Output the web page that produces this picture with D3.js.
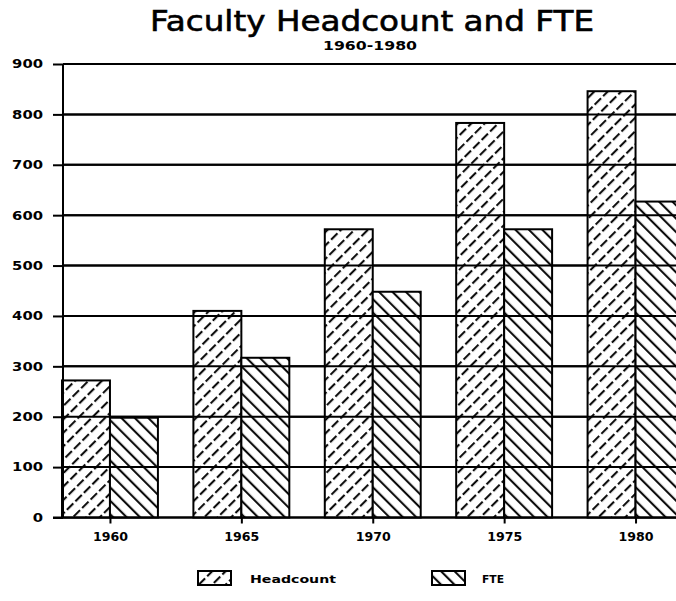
<!DOCTYPE html>
<html>
<head>
<meta charset="utf-8">
<script src="https://cdn.jsdelivr.net/npm/d3@7"></script>
<style>
  html, body { margin: 0; padding: 0; background: #fff; }
  svg { display: block; }
  text { font-family: "DejaVu Sans", sans-serif; fill: #000; }
</style>
</head>
<body>
<div id="chart"></div>
<script>
const years = ["1960", "1965", "1970", "1975", "1980"];
const headcount = [272, 410, 572, 783, 846];
const fte = [198, 317, 448, 572, 627];
const seriesNames = ["Headcount", "FTE"];
const yTicks = [0, 100, 200, 300, 400, 500, 600, 700, 800, 900];
const titleText = "Faculty Headcount and FTE";
const subtitleText = "1960-1980";

const W = 676, H = 601;
const svg = d3.select("#chart").append("svg").attr("width", W).attr("height", H);

const defs = svg.append("defs");
function hatch(id, angle, dash) {
  const p = defs.append("pattern").attr("id", id)
    .attr("patternUnits", "userSpaceOnUse")
    .attr("width", 9.5).attr("height", 12)
    .attr("patternTransform", `rotate(${angle})`);
  p.append("rect").attr("width", 9.5).attr("height", 12).attr("fill", "#fff");
  p.append("line").attr("x1", 3).attr("y1", 0).attr("x2", 3).attr("y2", 12)
    .attr("stroke", "#000").attr("stroke-width", 2)
    .attr("stroke-dasharray", dash);
}
hatch("hatchHead", 45, "9 3");
hatch("hatchFte", -45, null);
const fills = ["url(#hatchHead)", "url(#hatchFte)"];

const y = d3.scaleLinear().domain([0, 900]).range([517.5, 64]);
const x0 = d3.scaleBand().domain(years).range([62, 683.5]).paddingInner(0.27).paddingOuter(0);
const x1 = d3.scaleBand().domain(seriesNames).range([0, x0.bandwidth()]).padding(0);

// Title
svg.append("text").attr("x", 372).attr("y", 31).attr("text-anchor", "middle")
  .attr("font-size", 29).attr("textLength", 444).attr("lengthAdjust", "spacingAndGlyphs")
  .attr("stroke", "#000").attr("stroke-width", 0.6)
  .text(titleText);
svg.append("text").attr("x", 370).attr("y", 50).attr("text-anchor", "middle")
  .attr("font-size", 12).attr("font-weight", "bold")
  .attr("textLength", 94).attr("lengthAdjust", "spacingAndGlyphs")
  .text(subtitleText);

// Gridlines + y tick labels
const yAxis = d3.axisLeft(y).tickValues(yTicks).tickSize(10).tickFormat(d3.format("d"));
const gy = svg.append("g").attr("transform", "translate(63,0)").call(yAxis);
gy.select(".domain").remove();
gy.selectAll(".tick line").attr("stroke", "#000").attr("stroke-width", 2);
gy.selectAll(".tick text").attr("x", -20).attr("font-size", 12).attr("font-weight", "bold")
  .attr("font-family", "DejaVu Sans, sans-serif")
  .attr("textLength", d => String(d).length * 10.3).attr("lengthAdjust", "spacingAndGlyphs").attr("fill", "#000");

svg.append("g").selectAll("line").data(yTicks).join("line")
  .attr("x1", 63).attr("x2", W).attr("y1", d => y(d)).attr("y2", d => y(d))
  .attr("stroke", "#000").attr("stroke-width", 2);

// Bars
const groups = svg.append("g").selectAll("g").data(years).join("g")
  .attr("transform", d => `translate(${x0(d)},0)`);
groups.selectAll("rect").data((d, i) => [
  { s: seriesNames[0], v: headcount[i], f: fills[0] },
  { s: seriesNames[1], v: fte[i], f: fills[1] }
]).join("rect")
  .attr("x", d => x1(d.s)).attr("width", x1.bandwidth())
  .attr("y", d => y(d.v)).attr("height", d => y(0) - y(d.v))
  .attr("fill", d => d.f).attr("stroke", "#000").attr("stroke-width", 2);

// Gridlines run through the bars
svg.append("g").selectAll("line").data(yTicks.filter(d => d > 0)).join("line")
  .attr("x1", 63).attr("x2", W).attr("y1", d => y(d)).attr("y2", d => y(d))
  .attr("stroke", "#000").attr("stroke-width", 2);

// Y axis line
svg.append("line").attr("x1", 63).attr("x2", 63).attr("y1", y(0)).attr("y2", y(900))
  .attr("stroke", "#000").attr("stroke-width", 2);

// X axis
const gx = svg.append("g").attr("transform", `translate(0,${y(0)})`)
  .call(d3.axisBottom(d3.scalePoint().domain(years)
    .range([x0(years[0]) + x0.bandwidth() / 2, x0(years[4]) + x0.bandwidth() / 2])).tickSize(6));
gx.select(".domain").remove();
gx.selectAll(".tick line").attr("stroke", "#000").attr("stroke-width", 2);
gx.selectAll(".tick text").attr("y", 15).attr("font-size", 12).attr("font-weight", "bold")
  .attr("font-family", "DejaVu Sans, sans-serif")
  .attr("textLength", 35).attr("lengthAdjust", "spacingAndGlyphs").attr("fill", "#000");
svg.append("line").attr("x1", 53).attr("x2", W).attr("y1", y(0)).attr("y2", y(0))
  .attr("stroke", "#000").attr("stroke-width", 2);

// Legend
const legendItems = [
  { name: seriesNames[0], f: fills[0], sx: 198, tx: 250, tw: 86 },
  { name: seriesNames[1], f: fills[1], sx: 432, tx: 482, tw: 22 }
];
const lg = svg.append("g");
legendItems.forEach(it => {
  lg.append("rect").attr("x", it.sx).attr("y", 571).attr("width", 33).attr("height", 14)
    .attr("fill", it.f).attr("stroke", "#000").attr("stroke-width", 2);
  lg.append("text").attr("x", it.tx).attr("y", 583).attr("font-size", 11).attr("font-weight", "bold")
    .attr("textLength", it.tw).attr("lengthAdjust", "spacingAndGlyphs").text(it.name);
});
</script>
</body>
</html>
